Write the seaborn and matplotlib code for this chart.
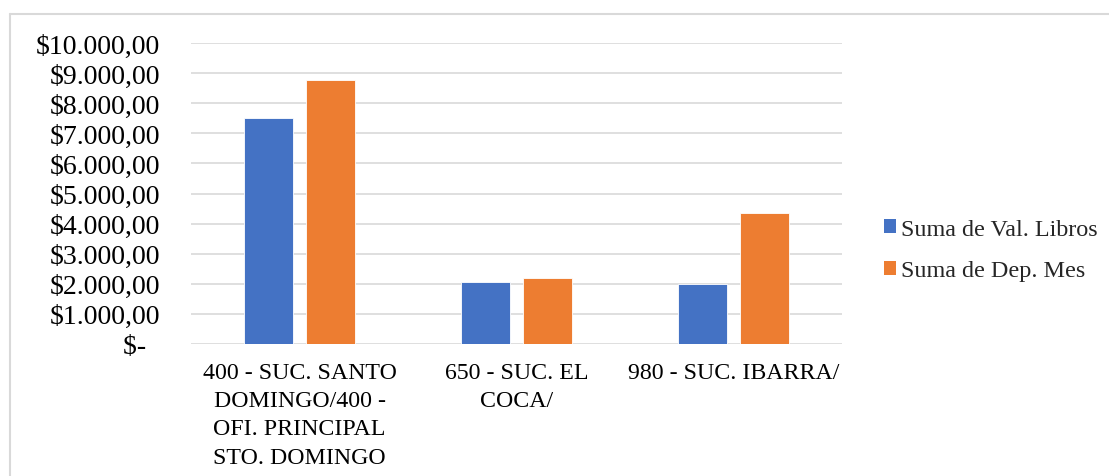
import matplotlib
matplotlib.use("Agg")
import matplotlib.pyplot as plt
import pandas as pd
import seaborn as sns
from matplotlib.lines import Line2D
from matplotlib.patches import Patch

# Branch labels (wrapped as on the category axis)
categories = [
    "400 - SUC. SANTO\nDOMINGO/400 -\nOFI. PRINCIPAL\nSTO. DOMINGO",
    "650 - SUC. EL\nCOCA/",
    "980 - SUC. IBARRA/",
]
series_names = ["Suma de Val. Libros", "Suma de Dep. Mes"]
val_libros = [7500, 2070, 2000]
dep_mes = [8760, 2190, 4360]

y_ticks = [0, 1000, 2000, 3000, 4000, 5000, 6000, 7000, 8000, 9000, 10000]
y_tick_labels = [
    "$-  ", "$1.000,00", "$2.000,00", "$3.000,00", "$4.000,00", "$5.000,00",
    "$6.000,00", "$7.000,00", "$8.000,00", "$9.000,00", "$10.000,00",
]
colors = ["#4472C4", "#ED7D31"]

sns.set_theme(style="white")
plt.rcParams["font.family"] = ["Liberation Serif", "DejaVu Serif"]

df = pd.DataFrame({
    "Sucursal": categories * 2,
    "Serie": [series_names[0]] * len(categories) + [series_names[1]] * len(categories),
    "Valor": val_libros + dep_mes,
})

W, H = 1109, 477
fig = plt.figure(figsize=(W / 100, H / 100), dpi=100)
ax = fig.add_axes([191 / W, 1 - 345 / H, 651 / W, 301 / H])

sns.barplot(
    data=df, x="Sucursal", y="Valor", hue="Serie", hue_order=series_names,
    palette=colors, saturation=1, width=0.569, gap=0.205,
    edgecolor="white", linewidth=0.6, legend=False, ax=ax,
)

ax.set_xlim(-0.5, len(categories) - 0.5)
ax.set_ylim(0, 10000)
ax.set_yticks(y_ticks)
ax.set_yticklabels(y_tick_labels, fontsize=20)
ax.set_xticks(range(len(categories)))
ax.set_xticklabels(categories, fontsize=17.2, linespacing=1.45)
ax.tick_params(axis="y", length=0, pad=22)
ax.tick_params(axis="x", length=0, pad=13)
ax.set_xlabel("")
ax.set_ylabel("")
ax.grid(axis="y", color="#d9d9d9", linewidth=1.2)
ax.set_axisbelow(True)
for s in ax.spines.values():
    s.set_visible(False)
for lbl in ax.get_yticklabels() + ax.get_xticklabels():
    lbl.set_color("#000000")

# Legend to the right of the plot area
handles = [Patch(facecolor=c, edgecolor="none") for c in colors]
fig.legend(
    handles, series_names, loc="center left",
    bbox_to_anchor=(884 / W, 1 - 251 / H), frameon=False,
    fontsize=17.4, handlelength=0.5, handleheight=0.5,
    handletextpad=0.2, labelspacing=0.85, borderpad=0, borderaxespad=0,
)

# Chart-area border (left and top edges)
fig.add_artist(Line2D([10 / W, 10 / W], [0, 1 - 15 / H], transform=fig.transFigure,
                      color="#d9d9d9", linewidth=1.5))
fig.add_artist(Line2D([10 / W, 1], [1 - 15 / H, 1 - 15 / H], transform=fig.transFigure,
                      color="#d9d9d9", linewidth=1.5))

fig.savefig("out.png", dpi=100, facecolor="white")
